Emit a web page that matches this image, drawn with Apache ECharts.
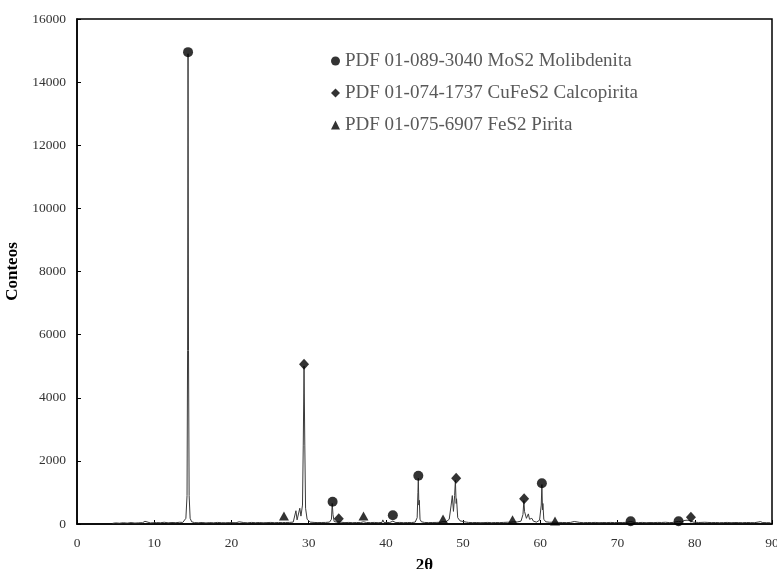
<!DOCTYPE html>
<html><head><meta charset="utf-8">
<script src="https://cdn.jsdelivr.net/npm/echarts@6/dist/echarts.min.js"></script>
<style>html,body{margin:0;padding:0;background:#fff}#c{width:777px;height:569px}</style>
</head><body><div id="c"></div>
<script>
const twoTheta = [4.6,5.0,5.5,6.0,6.5,7.0,7.5,8.0,8.5,8.8,9.0,9.5,10.3,10.8,11.3,11.8,12.3,12.8,13.3,13.7,13.95,14.1,14.25,14.32,14.38,14.44,14.52,14.65,14.85,15.2,15.7,16.2,16.7,17.2,17.7,18.2,18.7,19.2,19.7,20.6,21.0,21.2,21.6,22.1,22.6,23.1,23.6,24.1,24.6,25.1,25.6,26.1,26.6,26.8,27.0,27.5,28.0,28.2,28.35,28.5,28.7,28.85,29.0,29.2,29.3,29.4,29.5,29.6,29.8,30.2,30.7,31.2,31.7,32.2,32.7,32.95,33.05,33.15,33.3,33.6,33.9,34.2,34.7,35.2,35.7,36.2,36.7,37.1,37.5,38.0,38.5,39.0,39.5,39.6,39.75,40.5,40.9,41.3,41.8,42.3,42.8,43.3,43.8,44.05,44.15,44.2,44.27,44.33,44.42,44.6,45.0,45.5,46.0,46.5,47.0,47.4,47.8,48.2,48.45,48.6,48.75,48.9,49.0,49.1,49.15,49.3,49.6,49.8,50.4,50.7,51.2,51.7,52.2,52.7,53.2,53.7,54.2,54.7,55.2,55.7,56.2,56.5,57.0,57.5,57.75,57.87,57.95,58.05,58.2,58.45,58.6,58.9,59.1,59.5,59.9,60.12,60.2,60.28,60.33,60.45,60.7,61.2,61.9,62.4,62.9,63.4,63.9,64.4,64.6,65.1,65.6,66.1,66.6,67.1,67.6,68.1,68.6,69.1,69.6,70.6,71.1,71.7,72.2,72.7,73.2,73.7,74.2,74.7,75.2,75.7,76.2,76.7,77.2,77.9,78.3,78.6,78.8,79.0,79.2,79.4,79.6,79.8,80.5,80.8,81.3,81.5,81.7,82.2,82.7,83.2,83.7,84.2,84.7,85.2,85.7,86.2,86.7,87.2,87.7,88.2,88.5,88.8,89.3,89.8];
const counts = [20,35,25,40,28,45,30,38,42,85,40,35,45,40,55,38,48,42,55,50,70,180,900,5500,14900,5500,900,180,70,45,40,48,35,45,38,50,42,40,45,40,70,40,45,38,50,42,48,40,45,50,42,48,45,80,48,50,60,120,420,130,100,500,250,600,2500,5000,2500,500,150,60,50,45,48,50,60,150,650,300,80,60,70,55,45,50,42,48,45,70,48,45,50,42,50,130,50,48,90,45,50,42,48,45,60,200,1000,1450,600,750,150,70,50,45,48,50,55,75,70,150,600,900,400,900,1380,650,800,200,100,60,60,50,45,48,42,45,50,42,48,45,50,55,60,70,65,90,300,740,400,450,180,320,150,180,90,60,120,600,1250,450,650,150,70,55,60,50,48,45,50,80,45,50,42,48,45,50,42,48,45,50,45,48,50,80,48,45,50,42,48,45,50,48,55,45,50,85,60,110,70,120,70,110,130,60,48,50,55,80,50,45,48,42,45,50,42,48,45,42,48,45,42,60,75,45,42,40];

const molibX = [14.38,33.1,40.9,44.2,60.2,71.7,77.9];
const molibY = [14950,706,275,1530,1289,85,85];
const calcoX = [29.4,33.9,49.1,57.9,79.5];
const calcoY = [5059,168,1447,802,212];
const piritaX = [26.8,37.1,47.4,56.4,61.9];
const piritaY = [253,253,158,136,95];

const xTicks = [0,10,20,30,40,50,60,70,80,90];
const yTicks = [0,2000,4000,6000,8000,10000,12000,14000,16000];

const names = ['PDF 01-089-3040 MoS2 Molibdenita','PDF 01-074-1737 CuFeS2 Calcopirita','PDF 01-075-6907 FeS2 Pirita'];

function pairs(a,b){return a.map((v,i)=>[v,b[i]]);}

const font = 'Liberation Serif';
const chart = echarts.init(document.getElementById('c'));
chart.setOption({
  animation:false,
  grid:{left:77,right:5,top:19,bottom:45,containLabel:false,outerBoundsMode:'none',show:true,borderColor:'#000',borderWidth:1.5},
  legend:{
    orient:'vertical',left:326,top:46,itemWidth:9,itemHeight:9,itemGap:12,
    data:names,
    textStyle:{fontFamily:font,fontSize:19,color:'#595959',lineHeight:20}
  },
  xAxis:{
    type:'value',min:xTicks[0],max:xTicks[xTicks.length-1],interval:10,
    name:'2θ',nameLocation:'middle',nameGap:33,
    nameTextStyle:{fontFamily:font,fontSize:17,fontWeight:'bold',color:'#000'},
    axisLine:{show:true,lineStyle:{color:'#000',width:1.5}},
    axisTick:{show:true,inside:true,length:4,lineStyle:{color:'#000'}},
    axisLabel:{fontFamily:font,fontSize:13.5,color:'#333',margin:12,formatter:v=>String(v)},
    splitLine:{show:false}
  },
  yAxis:{
    type:'value',min:yTicks[0],max:yTicks[yTicks.length-1],interval:2000,
    name:'Conteos',nameLocation:'middle',nameGap:48,
    nameTextStyle:{fontFamily:font,fontSize:17,fontWeight:'bold',color:'#000'},
    axisLine:{show:true,lineStyle:{color:'#000',width:1.5}},
    axisTick:{show:true,inside:true,length:4,lineStyle:{color:'#000'}},
    axisLabel:{fontFamily:font,fontSize:13.5,color:'#333',margin:11,formatter:v=>String(v)},
    splitLine:{show:false}
  },
  series:[
    {type:'line',data:pairs(twoTheta,counts),showSymbol:false,symbol:'none',
     lineStyle:{color:'#3a3a3a',width:1},z:2},
    {name:names[0],type:'scatter',data:pairs(molibX,molibY),symbol:'circle',symbolSize:10,
     itemStyle:{color:'#000'},z:3},
    {name:names[1],type:'scatter',data:pairs(calcoX,calcoY),symbol:'diamond',symbolSize:[10,11],
     itemStyle:{color:'#000'},z:3},
    {name:names[2],type:'scatter',data:pairs(piritaX,piritaY),symbol:'triangle',symbolSize:[10,9],
     itemStyle:{color:'#000'},z:3}
  ]
});
</script></body></html>
